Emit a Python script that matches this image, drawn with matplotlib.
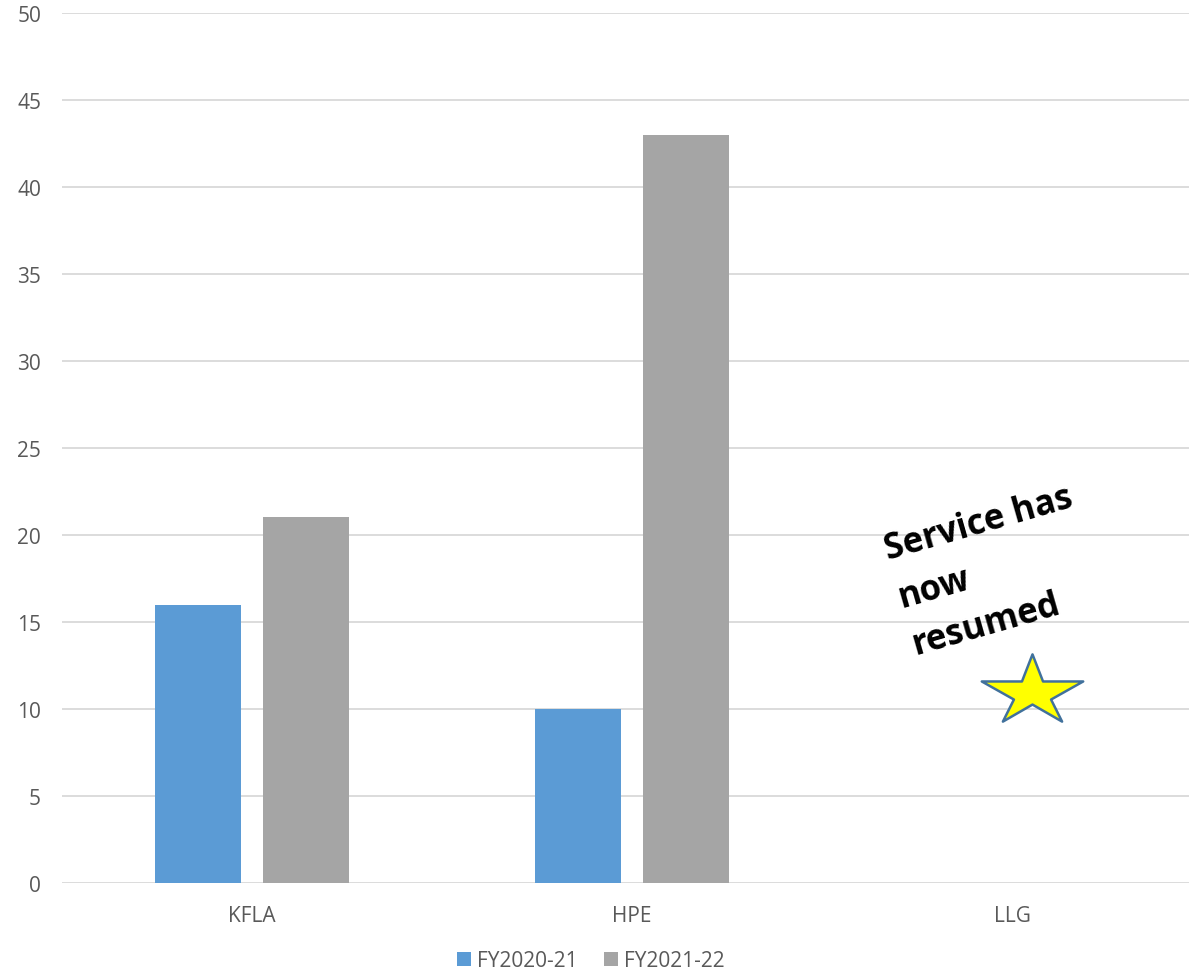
import numpy as np
import matplotlib.pyplot as plt
from matplotlib.path import Path

categories = ['KFLA', 'HPE', 'LLG']
fy2020_21 = [16, 10, 0]
fy2021_22 = [21, 43, 0]
series_labels = ['FY2020-21', 'FY2021-22']
note_text = 'Service has\nnow\nresumed'

plt.rcParams['font.family'] = ['Open Sans', 'DejaVu Sans']

fig = plt.figure(figsize=(11.89, 9.79), dpi=100)
# axes run a little past the right edge, like the cropped original
ax = fig.add_axes([0.0521, 0.097, 0.9588, 0.889])

x = np.arange(len(categories))
w = 0.226
off = 0.143
ax.bar(x - off, fy2020_21, w, color='#5B9BD5', label=series_labels[0], zorder=3)
ax.bar(x + off, fy2021_22, w, color='#A5A5A5', label=series_labels[1], zorder=3)

ax.set_xlim(-0.5, 2.5)
ax.set_ylim(0, 50)
ax.set_yticks(range(0, 51, 5))
ax.set_xticks(x, labels=categories)
ax.grid(axis='y', color='#D9D9D9', linewidth=1.3, zorder=0)
for s in ax.spines.values():
    s.set_visible(False)
ax.tick_params(length=0, colors='#595959', labelsize=15)
ax.tick_params(axis='x', pad=16)
ax.tick_params(axis='y', pad=15)

# squat five point star, shaped like the office one
star = Path([(0, 33), (10.5, 6), (50.5, 6), (18.5, -12), (29.5, -34), (0, -17),
             (-29.5, -34), (-18.5, -12), (-50.5, 6), (-10.5, 6), (0, 33)],
            closed=True)

# note and star for LLG
ax.text(1.948, 17.9, note_text, rotation=16, ha='center', va='center',
        multialignment='left', fontsize=25, fontweight='bold', color='black',
        linespacing=1.5, zorder=5)
ax.plot([2.054], [11.26], marker=star, markersize=73, markerfacecolor='#FFFF00',
        markeredgecolor='#41719C', markeredgewidth=1.8, zorder=5)

fig.legend(loc='lower center', bbox_to_anchor=(0.497, -0.012), ncol=2, frameon=False,
           fontsize=15, handlelength=0.65, handleheight=0.65, handletextpad=0.3,
           columnspacing=1.3, labelcolor='#595959')

fig.savefig('out.png', dpi=100)
